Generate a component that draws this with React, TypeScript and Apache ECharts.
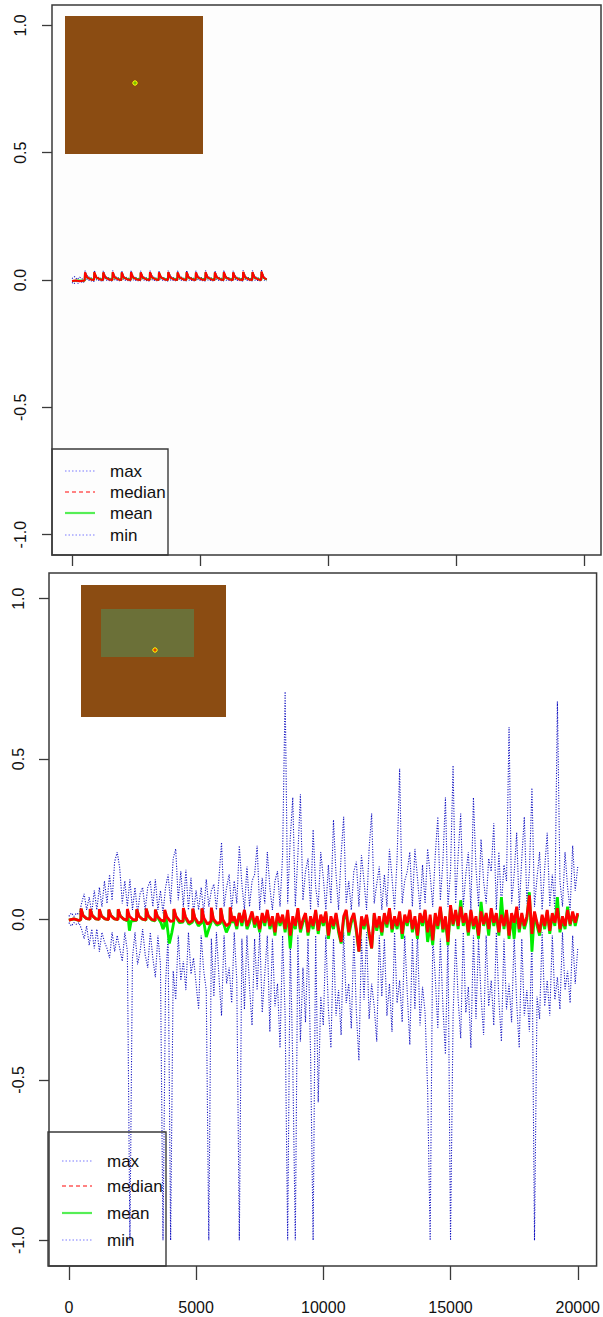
import React, { useEffect, useRef } from "react";
import * as echarts from "echarts";

// ---------- axis ticks / labels ----------
const xTicks = [0, 5000, 10000, 15000, 20000];
const yTicks = [-1, -0.5, 0, 0.5, 1];
const legendLabels = ["max", "median", "mean", "min"];

// ---------- top panel (x, value) ----------
const topMax: [number, number][] = [
  [0, 0.006], [100, 0.013], [200, 0.003], [300, 0.011], [400, 0.004], [495, 0.008],
  [508, 0.036], [600, 0.014], [860, 0.004],
  [871, 0.037], [960, 0.013], [1210, 0.004],
  [1222, 0.036], [1310, 0.013], [1578, 0.004],
  [1590, 0.037], [1680, 0.013], [1930, 0.004],
  [1942, 0.036], [2030, 0.013], [2293, 0.004],
  [2305, 0.037], [2395, 0.013], [2671, 0.004],
  [2683, 0.036], [2773, 0.013], [3034, 0.004],
  [3046, 0.037], [3136, 0.013], [3385, 0.004],
  [3397, 0.036], [3487, 0.013], [3748, 0.004],
  [3760, 0.037], [3850, 0.013], [4113, 0.004],
  [4125, 0.036], [4215, 0.013], [4465, 0.004],
  [4477, 0.037], [4567, 0.013], [4828, 0.004],
  [4840, 0.036], [4930, 0.013], [5205, 0.004],
  [5217, 0.037], [5307, 0.013], [5568, 0.004],
  [5580, 0.036], [5670, 0.013], [5919, 0.004],
  [5931, 0.037], [6021, 0.013], [6283, 0.004],
  [6295, 0.036], [6385, 0.013], [6674, 0.004],
  [6686, 0.038], [6776, 0.013], [7038, 0.004],
  [7050, 0.037], [7140, 0.013], [7390, 0.004],
  [7402, 0.039], [7492, 0.013], [7605, 0.004],
];

const topMin: [number, number][] = [
  [0, -0.01], [80, -0.015], [160, -0.006], [240, -0.013], [320, -0.004], [420, -0.011], [495, -0.005],
  [508, 0.02], [600, 0.0], [860, -0.006],
  [871, 0.021], [960, 0.0], [1210, -0.005],
  [1222, 0.02], [1310, 0.0], [1578, -0.004],
  [1590, 0.021], [1680, 0.0], [1930, -0.004],
  [1942, 0.02], [2030, 0.0], [2293, -0.004],
  [2305, 0.021], [2395, 0.0], [2671, -0.004],
  [2683, 0.02], [2773, 0.0], [3034, -0.004],
  [3046, 0.021], [3136, 0.0], [3385, -0.004],
  [3397, 0.02], [3487, 0.0], [3748, -0.004],
  [3760, 0.021], [3850, 0.0], [4113, -0.004],
  [4125, 0.02], [4215, 0.0], [4465, -0.004],
  [4477, 0.021], [4567, 0.0], [4828, -0.004],
  [4840, 0.02], [4930, 0.0], [5205, -0.004],
  [5217, 0.021], [5307, 0.0], [5568, -0.004],
  [5580, 0.02], [5670, 0.0], [5919, -0.004],
  [5931, 0.021], [6021, 0.0], [6283, -0.004],
  [6295, 0.02], [6385, 0.0], [6674, -0.004],
  [6686, 0.022], [6776, 0.0], [7038, -0.004],
  [7050, 0.021], [7140, 0.0], [7390, -0.004],
  [7402, 0.023], [7492, 0.0], [7605, -0.003],
];

const topMean: [number, number][] = [
  [0, -0.004], [250, -0.002], [495, -0.003],
  [508, 0.028], [590, 0.009], [860, 0.0],
  [871, 0.029], [951, 0.009], [1210, 0.0],
  [1222, 0.028], [1302, 0.009], [1578, 0.0],
  [1590, 0.029], [1670, 0.009], [1930, 0.0],
  [1942, 0.028], [2022, 0.009], [2293, 0.0],
  [2305, 0.029], [2385, 0.009], [2671, 0.0],
  [2683, 0.028], [2763, 0.009], [3034, 0.0],
  [3046, 0.029], [3126, 0.009], [3385, 0.0],
  [3397, 0.028], [3477, 0.009], [3748, 0.0],
  [3760, 0.029], [3840, 0.009], [4113, 0.0],
  [4125, 0.028], [4205, 0.009], [4465, 0.0],
  [4477, 0.029], [4557, 0.009], [4828, 0.0],
  [4840, 0.028], [4920, 0.009], [5205, 0.0],
  [5217, 0.029], [5297, 0.009], [5568, 0.0],
  [5580, 0.028], [5660, 0.009], [5919, 0.0],
  [5931, 0.029], [6011, 0.009], [6283, 0.0],
  [6295, 0.028], [6375, 0.009], [6674, 0.0],
  [6686, 0.03], [6766, 0.009], [7038, 0.0],
  [7050, 0.029], [7130, 0.009], [7390, 0.0],
  [7402, 0.031], [7482, 0.009], [7605, 0.001],
];

const topMedian: [number, number][] = [
  [0, -0.004], [150, -0.002], [300, -0.005], [495, -0.002],
  [508, 0.03], [590, 0.01], [730, 0.002], [860, 0.0],
  [871, 0.031], [950, 0.01], [1090, 0.002], [1210, 0.0],
  [1222, 0.03], [1300, 0.01], [1440, 0.002], [1578, 0.0],
  [1590, 0.031], [1670, 0.01], [1810, 0.002], [1930, 0.0],
  [1942, 0.03], [2020, 0.01], [2160, 0.002], [2293, 0.0],
  [2305, 0.031], [2385, 0.01], [2525, 0.002], [2671, 0.0],
  [2683, 0.03], [2763, 0.01], [2903, 0.002], [3034, 0.0],
  [3046, 0.031], [3126, 0.01], [3266, 0.002], [3385, 0.0],
  [3397, 0.03], [3477, 0.01], [3617, 0.002], [3748, 0.0],
  [3760, 0.031], [3840, 0.01], [3980, 0.002], [4113, 0.0],
  [4125, 0.03], [4205, 0.01], [4345, 0.002], [4465, 0.0],
  [4477, 0.031], [4557, 0.01], [4697, 0.002], [4828, 0.0],
  [4840, 0.03], [4920, 0.01], [5060, 0.002], [5205, 0.0],
  [5217, 0.031], [5297, 0.01], [5437, 0.002], [5568, 0.0],
  [5580, 0.03], [5660, 0.01], [5800, 0.002], [5919, 0.0],
  [5931, 0.031], [6011, 0.01], [6151, 0.002], [6283, 0.0],
  [6295, 0.03], [6375, 0.01], [6515, 0.002], [6674, 0.0],
  [6686, 0.032], [6766, 0.01], [6906, 0.002], [7038, 0.0],
  [7050, 0.031], [7130, 0.01], [7270, 0.002], [7390, 0.0],
  [7402, 0.033], [7482, 0.01], [7605, 0.002],
];

// ---------- bottom panel ----------
// max / min sampled every 100 units from x = 0 to 20000
const bottomStep = 100;
const bottomMax = [
  0.01, 0.02, 0.01, 0.02, 0.015, 0.05, 0.08, 0.03, 0.07, 0.02,
  0.09, 0.03, 0.1, 0.04, 0.12, 0.05, 0.14, 0.06, 0.18, 0.21,
  0.16, 0.05, 0.12, 0.04, 0.125, 0.03, 0.1, 0.02, 0.08, 0.1,
  0.03, 0.1, 0.12, 0.04, 0.125, 0.03, 0.09, 0.02, 0.1, 0.14,
  0.05, 0.19, 0.22, 0.06, 0.15, 0.04, 0.155, 0.03, 0.13, 0.02,
  0.09, 0.03, 0.1, 0.02, 0.125, 0.04, 0.09, 0.11, 0.03, 0.13,
  0.24, 0.04, 0.1, 0.14, 0.03, 0.12, 0.05, 0.23, 0.11, 0.03,
  0.165, 0.04, 0.12, 0.14, 0.23, 0.03, 0.13, 0.05, 0.21, 0.1,
  0.03, 0.12, 0.15, 0.04, 0.2, 0.71, 0.05, 0.25, 0.38, 0.04,
  0.2, 0.39, 0.06, 0.15, 0.19, 0.03, 0.28, 0.1, 0.04, 0.21,
  0.13, 0.03, 0.17, 0.05, 0.31, 0.14, 0.03, 0.2, 0.32, 0.05,
  0.12, 0.03, 0.15, 0.18, 0.04, 0.2, 0.12, 0.03, 0.22, 0.33,
  0.05, 0.11, 0.165, 0.03, 0.14, 0.04, 0.22, 0.13, 0.03, 0.19,
  0.47, 0.05, 0.12, 0.15, 0.21, 0.04, 0.22, 0.13, 0.03, 0.17,
  0.05, 0.22, 0.14, 0.04, 0.2, 0.32, 0.06, 0.18, 0.38, 0.04,
  0.15, 0.48, 0.05, 0.2, 0.33, 0.04, 0.14, 0.21, 0.03, 0.38,
  0.16, 0.04, 0.25, 0.12, 0.05, 0.19, 0.15, 0.3, 0.03, 0.21,
  0.04, 0.17, 0.12, 0.6, 0.05, 0.14, 0.27, 0.03, 0.19, 0.32,
  0.05, 0.15, 0.41, 0.04, 0.13, 0.21, 0.03, 0.16, 0.27, 0.04,
  0.14, 0.03, 0.68, 0.12, 0.04, 0.21, 0.1, 0.03, 0.23, 0.09,
  0.165,
];

const bottomMin = [
  -0.01, -0.02, -0.01, -0.015, -0.01, -0.03, -0.06, -0.02, -0.08, -0.03,
  -0.09, -0.03, -0.1, -0.04, -0.07, -0.09, -0.12, -0.04, -0.1, -0.05,
  -0.09, -0.13, -0.04, -0.1, -1.0, -0.12, -0.04, -0.14, -0.1, -0.03,
  -0.11, -0.15, -0.04, -0.12, -0.18, -0.05, -0.14, -1.0, -0.2, -0.05,
  -1.0, -0.16, -0.25, -0.05, -0.19, -0.13, -0.22, -0.04, -0.17, -0.12,
  -0.2, -0.28, -0.05, -0.16, -0.22, -1.0, -0.06, -0.24, -0.04, -0.18,
  -0.3, -0.05, -0.2, -0.15, -0.26, -0.04, -0.19, -1.0, -0.06, -0.28,
  -0.05, -0.21, -0.33, -0.06, -0.22, -0.04, -0.29, -0.17, -0.05, -0.35,
  -0.06, -0.27, -0.2, -0.4, -0.05, -0.3, -1.0, -0.06, -0.45, -1.0,
  -0.05, -0.38, -0.15, -0.32, -0.06, -0.42, -1.0, -0.05, -0.57, -0.24,
  -0.33, -0.05, -0.28, -0.4, -0.06, -0.3, -0.22, -0.36, -0.04, -0.26,
  -0.2, -0.34, -0.05, -0.29, -0.44, -0.06, -0.25, -0.04, -0.31, -0.2,
  -0.27, -0.38, -0.05, -0.24, -0.06, -0.3, -0.2, -0.35, -0.04, -0.26,
  -0.19, -0.32, -0.05, -0.23, -0.39, -0.06, -0.28, -0.04, -0.33, -0.21,
  -0.29, -0.53, -1.0, -0.05, -0.18, -0.34, -0.06, -0.27, -0.42, -0.05,
  -1.0, -0.3, -0.06, -0.25, -0.37, -0.04, -0.29, -0.21, -0.4, -0.05,
  -0.31, -0.06, -0.24, -0.36, -0.05, -0.27, -0.19, -0.33, -0.04, -0.25,
  -0.38, -0.06, -0.28, -0.2, -0.32, -0.05, -0.26, -0.4, -0.06, -0.3,
  -0.22, -0.35, -0.05, -1.0, -0.24, -0.31, -0.04, -0.27, -0.19, -0.3,
  -0.05, -0.25, -0.18, -0.28, -0.04, -0.22, -0.16, -0.26, -0.05, -0.2,
  -0.09,
];

// median / mean: sawtooth part as (x, value) pairs, then every 100 units from 6500
const medianEarly: [number, number][] = [
  [0, -0.002], [200, 0.002], [400, -0.003],
  [470, 0.0], [480, 0.034], [560, 0.012], [700, 0.003], [830, 0.001],
  [840, 0.033], [920, 0.012], [1060, 0.002], [1190, 0.0],
  [1200, 0.032], [1280, 0.011], [1420, 0.002], [1560, 0.0],
  [1570, 0.031], [1650, 0.012], [1790, 0.002], [1930, 0.0],
  [1940, 0.032], [2020, 0.011], [2160, 0.001], [2290, -0.002],
  [2300, 0.033], [2380, 0.01], [2520, 0.0], [2660, -0.002],
  [2670, 0.032], [2750, 0.011], [2890, 0.001], [3030, -0.001],
  [3040, 0.034], [3120, 0.012], [3260, 0.0], [3390, -0.003],
  [3400, 0.031], [3480, 0.01], [3620, -0.002], [3760, -0.005],
  [3770, 0.03], [3850, 0.008], [3990, -0.006], [4120, -0.004],
  [4130, 0.033], [4210, 0.01], [4350, -0.005], [4490, -0.006],
  [4500, 0.036], [4580, 0.009], [4720, -0.01], [4860, -0.004],
  [4870, 0.034], [4950, 0.006], [5090, -0.012], [5220, -0.006],
  [5230, 0.035], [5310, 0.004], [5450, -0.015], [5590, -0.005],
  [5600, 0.037], [5680, 0.002], [5820, -0.012], [5960, -0.008],
  [5970, 0.036], [6050, 0.0], [6190, -0.02], [6330, -0.01],
  [6340, 0.038], [6420, -0.005],
];

const meanEarly: [number, number][] = [
  [0, -0.002], [200, 0.002], [400, -0.003],
  [470, 0.0], [480, 0.033], [560, 0.012], [700, 0.003], [830, 0.001],
  [840, 0.032], [920, 0.012], [1060, 0.002], [1190, 0.0],
  [1200, 0.031], [1280, 0.011], [1420, 0.002], [1560, 0.0],
  [1570, 0.03], [1650, 0.012], [1790, 0.002], [1930, 0.0],
  [1940, 0.031], [2020, 0.011], [2160, 0.001], [2290, -0.004],
  [2300, 0.03], [2380, -0.035], [2450, -0.005], [2660, -0.003],
  [2670, 0.031], [2750, 0.011], [2890, 0.001], [3030, -0.002],
  [3040, 0.033], [3120, 0.01], [3260, -0.002], [3390, -0.004],
  [3400, 0.03], [3480, 0.008], [3620, -0.01], [3700, -0.03], [3760, -0.02],
  [3770, 0.025], [3850, -0.01], [3950, -0.075], [4050, -0.04], [4120, -0.01],
  [4130, 0.03], [4210, 0.006], [4350, -0.01], [4490, -0.008],
  [4500, 0.034], [4580, 0.005], [4720, -0.015], [4860, -0.008],
  [4870, 0.032], [4950, 0.002], [5090, -0.02], [5220, -0.01],
  [5230, 0.033], [5310, -0.01], [5400, -0.055], [5500, -0.03], [5590, -0.01],
  [5600, 0.035], [5680, -0.002], [5820, -0.018], [5960, -0.012],
  [5970, 0.034], [6050, -0.005], [6190, -0.04], [6330, -0.015],
  [6340, 0.036], [6420, -0.01],
];

const lateStart = 6500;
const medianLate = [
  0.01, -0.02, 0.02, -0.01, 0.03, -0.02, 0.0, 0.025, -0.015, 0.01,
  -0.03, 0.02, -0.01, 0.03, -0.02, 0.01, -0.04, 0.02, -0.01, 0.015,
  -0.03, 0.03, -0.05, 0.01, -0.02, 0.035, -0.03, 0.0, 0.02, -0.04,
  0.01, -0.02, 0.03, -0.035, 0.015, -0.01, 0.025, -0.05, 0.01, -0.02,
  0.02, -0.03, -0.07, 0.01, 0.03, -0.04, 0.0, 0.02, -0.03, -0.1,
  0.01, -0.02, 0.015, -0.04, -0.09, 0.02, -0.025, 0.01, -0.04, 0.02,
  -0.015, 0.035, -0.03, 0.01, -0.02, 0.025, -0.045, 0.015, -0.01, 0.03,
  -0.03, 0.01, -0.05, 0.02, -0.01, 0.03, -0.04, 0.015, -0.065, 0.02,
  -0.02, 0.04, -0.03, 0.01, -0.07, 0.045, -0.015, 0.03, -0.02, 0.04,
  -0.01, 0.02, -0.04, 0.03, -0.02, 0.01, -0.05, 0.025, -0.015, 0.02,
  -0.03, 0.035, -0.01, 0.02, -0.04, 0.015, -0.02, 0.03, -0.05, 0.02,
  -0.01, 0.04, -0.03, 0.02, -0.02, 0.01, 0.075, -0.045, 0.025, -0.01,
  -0.04, 0.015, -0.02, 0.03, -0.035, 0.02, -0.01, 0.035, -0.03, 0.01,
  -0.02, 0.03, -0.015, 0.025, -0.01, 0.02,
];

const meanLate = [
  0.0, -0.03, 0.02, -0.02, 0.025, -0.03, -0.01, 0.02, -0.025, 0.0,
  -0.04, 0.015, -0.02, 0.025, -0.03, 0.0, -0.05, 0.015, -0.02, 0.01,
  -0.04, 0.02, -0.09, 0.0, -0.03, 0.03, -0.04, -0.01, 0.015, -0.05,
  0.0, -0.03, 0.025, -0.045, 0.01, -0.02, 0.02, -0.06, 0.0, -0.03,
  0.015, -0.04, -0.075, 0.0, 0.025, -0.05, -0.01, 0.015, -0.04, -0.1,
  0.0, -0.03, 0.01, -0.05, -0.09, 0.015, -0.035, 0.0, -0.05, 0.015,
  -0.025, 0.03, -0.04, 0.0, -0.03, 0.02, -0.06, 0.01, -0.02, 0.025,
  -0.04, 0.0, -0.06, 0.015, -0.02, 0.025, -0.07, -0.02, -0.08, 0.015,
  -0.03, 0.035, -0.04, 0.0, -0.08, 0.04, -0.02, 0.025, -0.03, 0.06,
  -0.02, 0.015, -0.05, 0.025, -0.03, 0.0, -0.06, 0.055, -0.02, 0.015,
  -0.05, 0.03, -0.02, 0.015, -0.05, 0.07, -0.03, 0.025, -0.06, 0.015,
  -0.06, 0.035, -0.04, 0.015, -0.03, 0.0, 0.085, -0.1, 0.02, -0.02,
  -0.05, 0.01, -0.03, 0.025, -0.045, 0.015, -0.02, 0.07, -0.04, 0.0,
  -0.03, 0.04, -0.02, 0.02, -0.02, 0.015,
];

// ---------- helpers ----------
const stepped = (vals: number[], start: number, step: number): [number, number][] =>
  vals.map((v, i) => [start + i * step, v]);

const FONT = "'Liberation Sans', Arial, Helvetica, sans-serif";
const AXIS = "#3a3a3a";
const BLUE = "#1010c0";
const RED = "#ff0000";
const GREEN = "#00ee00";

function buildLegend(box: { x: number; y: number; w: number; h: number }, rowsY: number[], lineX: [number, number], textX: number) {
  const lineStyles = [
    { stroke: "#7a7aff", lineWidth: 1.2, lineDash: [1.5, 2] },
    { stroke: "#ff5a5a", lineWidth: 1.6, lineDash: [4, 3] },
    { stroke: "#55ee55", lineWidth: 2.2, lineDash: null },
    { stroke: "#7a7aff", lineWidth: 1.2, lineDash: [1.5, 2] },
  ];
  const els: any[] = [
    {
      type: "rect",
      shape: { x: box.x, y: box.y, width: box.w, height: box.h },
      style: { fill: "none", stroke: AXIS, lineWidth: 1.4 },
      z: 100,
    },
  ];
  legendLabels.forEach((label, i) => {
    els.push({
      type: "line",
      shape: { x1: lineX[0], y1: rowsY[i], x2: lineX[1], y2: rowsY[i] },
      style: lineStyles[i],
      z: 100,
    });
    els.push({
      type: "text",
      x: textX,
      y: rowsY[i],
      style: {
        text: label,
        fontSize: 17,
        fontFamily: FONT,
        fill: "#111",
        verticalAlign: "middle",
        textVerticalAlign: "middle",
        align: "left",
      },
      z: 100,
    });
  });
  return els;
}

function yAxisFor(gridIndex: number, margin: number) {
  return {
    gridIndex,
    type: "value",
    min: -1.08,
    max: 1.08,
    axisLine: { show: false, onZero: false },
    splitLine: { show: false },
    axisTick: { show: true, customValues: yTicks, length: 10, lineStyle: { color: AXIS, width: 1.3 } },
    axisLabel: {
      show: true,
      customValues: yTicks,
      rotate: 90,
      margin,
      fontSize: 16,
      fontFamily: FONT,
      color: "#111",
      formatter: (v: number) => v.toFixed(1),
    },
  };
}

function seriesFor(axis: number, data: [number, number][], color: string, width: number, type: any, z: number) {
  return {
    type: "line",
    xAxisIndex: axis,
    yAxisIndex: axis,
    data,
    symbol: "none",
    showSymbol: false,
    silent: true,
    z,
    lineStyle: { color, width, type },
  };
}

export default function App() {
  const ref = useRef<HTMLDivElement>(null);

  useEffect(() => {
    if (!ref.current) return;
    const chart = echarts.init(ref.current, undefined, { renderer: "svg" });

    const bMax = stepped(bottomMax, 0, bottomStep);
    const bMin = stepped(bottomMin, 0, bottomStep);
    const bMedian = medianEarly.concat(stepped(medianLate, lateStart, bottomStep));
    const bMean = meanEarly.concat(stepped(meanLate, lateStart, bottomStep));

    const option: any = {
      animation: false,
      backgroundColor: "#ffffff",
      grid: [
        { left: 52, top: 5, width: 549, height: 550, show: true, borderColor: AXIS, borderWidth: 1.5, backgroundColor: "#fdfdfd" },
        { left: 49, top: 573, width: 552, height: 693, show: true, borderColor: AXIS, borderWidth: 1.5, backgroundColor: "#ffffff" },
      ],
      xAxis: [
        {
          gridIndex: 0,
          type: "value",
          min: -781,
          max: 20664,
          axisLine: { show: false, onZero: false },
          splitLine: { show: false },
          axisTick: { show: true, customValues: xTicks, length: 11, lineStyle: { color: AXIS, width: 1.3 } },
          axisLabel: { show: false },
        },
        {
          gridIndex: 1,
          type: "value",
          min: -780,
          max: 20740,
          axisLine: { show: false, onZero: false },
          splitLine: { show: false },
          axisTick: { show: true, customValues: xTicks, length: 14, lineStyle: { color: AXIS, width: 1.3 } },
          axisLabel: {
            show: true,
            customValues: xTicks,
            margin: 33,
            fontSize: 16,
            fontFamily: FONT,
            color: "#111",
            formatter: (v: number) => String(v),
          },
        },
      ],
      yAxis: [yAxisFor(0, 24), yAxisFor(1, 23)],
      series: [
        seriesFor(0, topMax, BLUE, 1.1, [1.1, 1.4], 2),
        seriesFor(0, topMin, BLUE, 1.1, [1.1, 1.4], 2),
        seriesFor(0, topMean, GREEN, 2, "solid", 3),
        seriesFor(0, topMedian, RED, 2, "solid", 4),
        seriesFor(1, bMax, BLUE, 1.1, [1.1, 1.5], 2),
        seriesFor(1, bMin, BLUE, 1.1, [1.1, 1.5], 2),
        seriesFor(1, bMean, GREEN, 2.8, "solid", 3),
        seriesFor(1, bMedian, RED, 2.8, "solid", 4),
      ],
      graphic: [
        // top inset
        { type: "rect", shape: { x: 65, y: 16, width: 138, height: 138 }, style: { fill: "#8b4c12" }, z: 90 },
        { type: "circle", shape: { cx: 135, cy: 83, r: 2.2 }, style: { fill: "#7fbf00", stroke: "#ffff00", lineWidth: 1 }, z: 91 },
        // bottom inset
        { type: "rect", shape: { x: 81, y: 585, width: 145, height: 132 }, style: { fill: "#8b4c12" }, z: 90 },
        { type: "rect", shape: { x: 101, y: 609, width: 93, height: 48 }, style: { fill: "#6b7038" }, z: 91 },
        { type: "circle", shape: { cx: 155, cy: 650, r: 2.2 }, style: { fill: "#e04a00", stroke: "#ffff00", lineWidth: 1 }, z: 92 },
        ...buildLegend({ x: 52, y: 449, w: 116, h: 106 }, [471, 492, 513, 535], [65, 95], 110),
        ...buildLegend({ x: 48, y: 1132, w: 118, h: 134 }, [1161, 1186, 1213, 1240], [62, 92], 107),
      ],
    };

    chart.setOption(option);
    return () => chart.dispose();
  }, []);

  return (
    <div
      ref={ref}
      style={{ position: "absolute", left: 0, top: 0, width: 603, height: 1317, background: "#ffffff" }}
    />
  );
}
